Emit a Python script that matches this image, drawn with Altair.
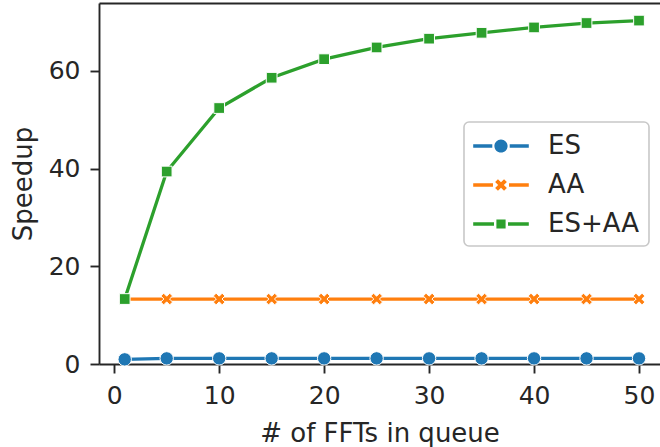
import altair as alt
import pandas as pd

# ---------------- data ----------------
queue_sizes = [1, 5, 10, 15, 20, 25, 30, 35, 40, 45, 50]
es_speedup = [0.95, 1.15, 1.15, 1.15, 1.15, 1.15, 1.15, 1.15, 1.15, 1.15, 1.15]
aa_speedup = [13.3, 13.3, 13.3, 13.3, 13.3, 13.3, 13.3, 13.3, 13.3, 13.3, 13.3]
esaa_speedup = [13.3, 39.4, 52.4, 58.6, 62.4, 64.8, 66.6, 67.8, 68.9, 69.8, 70.3]
series_names = ["ES", "AA", "ES+AA"]
series_colors = ["#1f77b4", "#ff7f0e", "#2ca02c"]
x_ticks = [0, 10, 20, 30, 40, 50]
y_ticks = [0, 20, 40, 60]

rows = []
for name, vals in zip(series_names, [es_speedup, aa_speedup, esaa_speedup]):
    for n, v in zip(queue_sizes, vals):
        rows.append({"n": n, "speedup": v, "series": name})
df = pd.DataFrame(rows)

# ---------------- marker paths ----------------
def f(v):
    return ("%.4f" % v).rstrip("0").rstrip(".")

def scale_pts(pts, R):
    return [(x / R, y / R) for x, y in pts]

def poly(pts):
    return "M" + "L".join(f"{f(x)},{f(y)}" for x, y in pts) + "Z"

def rect(x0, x1, h, R):
    return poly(scale_pts([(x0, -h), (x1, -h), (x1, h), (x0, h)], R))

def circle(r, R):
    r = r / R
    return f"M{f(r)},0A{f(r)},{f(r)} 0 1,1 {f(-r)},0A{f(r)},{f(r)} 0 1,1 {f(r)},0Z"

def xshape(L, t, R):
    a = (L - t) / 2 ** 0.5
    b = (L + t) / 2 ** 0.5
    c = t * 2 ** 0.5
    pts = [(c, 0), (b, a), (a, b), (0, c), (-a, b), (-b, a), (-c, 0),
           (-b, -a), (-a, -b), (0, -c), (a, -b), (b, -a)]
    return poly(scale_pts(pts, R))

def square(s, R):
    return poly(scale_pts([(-s, -s), (s, -s), (s, s), (-s, s)], R))

# plot markers
X_R = 7.0
x_marker = xshape(6.3, 2.0, X_R)
marker_shapes = ["circle", x_marker, "square"]
marker_sizes = [180, (2 * X_R) ** 2, 115]

# legend symbols: line + marker
LR = 15.0
half = 27.8
lw = 1.65
leg_es = rect(-half, -8.7, lw, LR) + rect(8.7, half, lw, LR) + circle(6.6, LR)
leg_aa = rect(-half, -8.0, lw, LR) + rect(8.0, half, lw, LR) + xshape(6.3, 2.0, LR)
leg_esaa = rect(-half, -7.0, lw, LR) + rect(7.0, half, lw, LR) + square(4.6, LR)
legend_paths = [leg_es, leg_aa, leg_esaa]

FONT = "DejaVu Sans"
TXT = "#262626"

x_scale = alt.Scale(domain=[-1.45, 52.0], nice=False, zero=False)
y_scale = alt.Scale(domain=[0, 73.9], nice=False, zero=False)

x_axis = alt.Axis(values=x_ticks, title="# of FFTs in queue", grid=False,
                  labelFontSize=25, labelFont=FONT, labelColor=TXT, labelPadding=10,
                  tickSize=9, tickWidth=1.9, tickColor=TXT,
                  domainColor=TXT, domainWidth=1.9,
                  titleFont=FONT, titleFontSize=26, titleColor=TXT, titleFontWeight="normal",
                  titleBaseline="alphabetic", titleY=77)
y_axis = alt.Axis(values=y_ticks, title="Speedup", grid=False,
                  labelFontSize=25, labelFont=FONT, labelColor=TXT, labelPadding=10,
                  tickSize=9, tickWidth=1.9, tickColor=TXT,
                  domainColor=TXT, domainWidth=1.9,
                  titleFont=FONT, titleFontSize=26, titleColor=TXT, titleFontWeight="normal",
                  titleBaseline="alphabetic", titleX=-67.5, titleY=180.5, titleAngle=270,
                  titleAlign="center")

base = alt.Chart(df)
layers = []
for i, (name, color) in enumerate(zip(series_names, series_colors)):
    sub = base.transform_filter(alt.datum.series == name)
    xenc = alt.X("n:Q", scale=x_scale, axis=x_axis if i == 0 else alt.Undefined)
    yenc = alt.Y("speedup:Q", scale=y_scale, axis=y_axis if i == 0 else alt.Undefined)
    line = sub.mark_line(color=color, strokeWidth=3.3).encode(x=xenc, y=yenc)
    pts = sub.mark_point(filled=True, fill=color, stroke="white", strokeWidth=1,
                         opacity=1, shape=marker_shapes[i], size=marker_sizes[i]).encode(
        x=alt.X("n:Q", scale=x_scale), y=alt.Y("speedup:Q", scale=y_scale))
    layers += [line, pts]

data_layers = alt.layer(*layers)

leg = alt.Legend(title=None, orient="none", legendX=365, legendY=119, padding=9,
                 labelFontSize=26, labelFont=FONT, labelColor=TXT,
                 symbolSize=(2 * LR) ** 2, symbolStrokeWidth=0, symbolOffset=13,
                 labelOffset=32, rowPadding=11,
                 strokeColor="#c8c8c8", fillColor="rgba(255,255,255,0.85)",
                 cornerRadius=5)

legend_layer = base.transform_filter("false").mark_point(filled=True, opacity=1).encode(
    x=alt.X("n:Q", scale=x_scale,
            axis=alt.Axis(orient="top", labels=False, ticks=False, title=None, grid=False,
                          domainColor=TXT, domainWidth=1.9)),
    y=alt.Y("speedup:Q", scale=y_scale),
    color=alt.Color("series:N", scale=alt.Scale(domain=series_names, range=series_colors), legend=leg),
    shape=alt.Shape("series:N", scale=alt.Scale(domain=series_names, range=legend_paths), legend=leg),
)

chart = alt.layer(data_layers, legend_layer).resolve_axis(x="independent").properties(
    width=561, height=361,
    autosize=alt.AutoSizeParams(type="none"),
    padding={"left": 99, "top": 3, "right": 0, "bottom": 83},
).configure_view(stroke=None).configure_legend(strokeWidth=1.6)

chart.save("out.html", embed_options={"renderer": "svg", "actions": False})
